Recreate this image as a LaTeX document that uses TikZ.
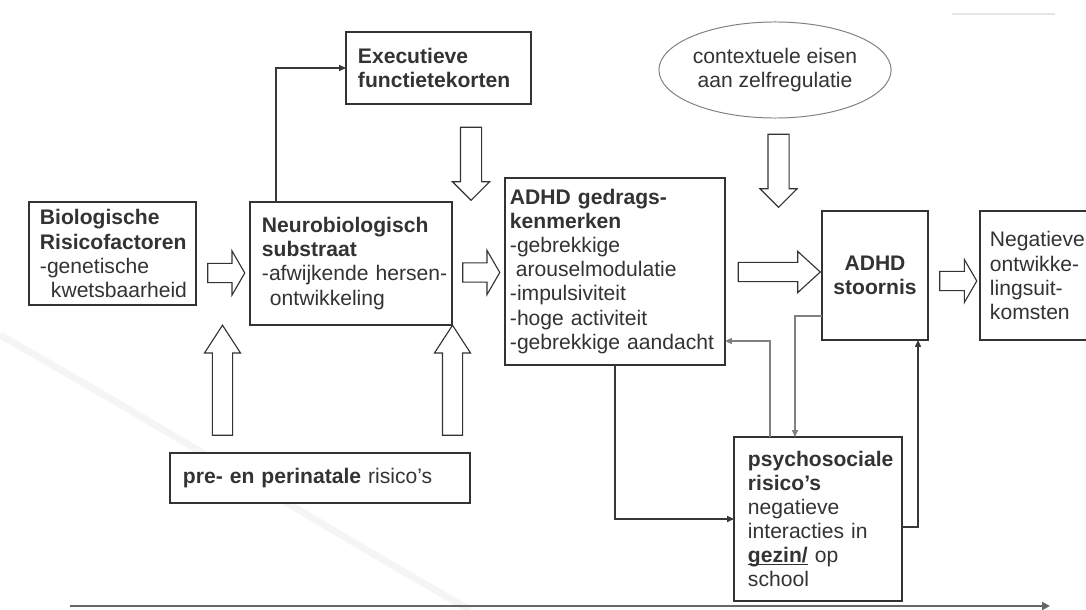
\documentclass[tikz,border=0pt]{standalone}
\usepackage{fontspec}
\setmainfont{Liberation Sans}
\usetikzlibrary{arrows.meta,calc,shapes.geometric,shapes.arrows}
\definecolor{FlowInk}{gray}{0.2}
\definecolor{FlowLink}{gray}{0.22}
\definecolor{FlowSoft}{gray}{0.5}
\definecolor{FlowTime}{gray}{0.4}
\definecolor{FlowFaint}{gray}{0.9}
\definecolor{FlowMist}{gray}{0.96}
\tikzset{
    flow/diagram/.style={
        x=0.025cm, y=-0.025cm,
        font=\fontsize{15}{17.1}\selectfont,
        text=FlowInk,
        every node/.style={inner sep=0pt, outer sep=0pt}
    },
    flow/box/.style={
        draw=FlowInk, line width=1pt, fill=white, align=left,
        execute at begin node={\hyphenpenalty=10000\exhyphenpenalty=10000}
    },
    flow/oval/.style={
        ellipse, draw=FlowSoft, line width=0.7pt, fill=white, align=center,
        minimum width=5.25cm, minimum height=2.4cm
    },
    flow/link/.style={
        draw=FlowLink, line width=0.8pt,
        -{Triangle[length=1.7mm, width=1.5mm]}
    },
    flow/softlink/.style={flow/link, draw=FlowSoft},
    flow/fat/.style={
        single arrow, draw=FlowInk, fill=white, line width=0.8pt,
        inner sep=0.225cm,
        minimum height=0.925cm, minimum width=1.075cm,
        single arrow head extend=0.3125cm, single arrow tip angle=120
    },
    flow/fatlong/.style={
        flow/fat, minimum height=2.05cm, minimum width=1cm,
        single arrow head extend=0.275cm, single arrow tip angle=85
    },
    flow/fatdown/.style={
        flow/fat, shape border rotate=270, inner sep=0.25cm,
        minimum height=1.825cm, minimum width=0.9cm,
        single arrow head extend=0.2cm, single arrow tip angle=90
    },
    flow/fatup/.style={
        flow/fat, shape border rotate=90, inner sep=0.2375cm,
        minimum height=2.75cm, minimum width=0.875cm,
        single arrow head extend=0.2cm, single arrow tip angle=66
    },
    flow/timeline/.style={
        draw=FlowTime, line width=1.6pt,
        -{Triangle[length=2mm, width=2mm]}
    },
    flow/faint/.style={draw=FlowFaint, line width=1pt},
    flow/swoosh/.style={draw=FlowMist, line width=5pt}
}
\begin{document}
\begin{tikzpicture}[flow/diagram]
    \useasboundingbox (0,0) rectangle (1086,610);
    \draw[flow/swoosh] (0,335) .. controls (150,420) and (330,530) .. (470,610);
    \node[flow/box, minimum width=4.175cm, minimum height=2.575cm,
        text width=3.625cm] (bio) at (112.5,253.5)
        {\textbf{Biologische}\\\textbf{Risicofactoren}\\-genetische\\\mbox{\hspace*{0.275cm}kwetsbaarheid}};
    \node[flow/box, minimum width=5.05cm, minimum height=3.075cm,
        text width=4.45cm] (neuro) at (351,263.5)
        {\textbf{Neurobiologisch}\\\textbf{substraat}\\\mbox{-afwijkende hersen-}\\\hspace*{0.2cm}ontwikkeling};
    \node[flow/box, minimum width=4.625cm, minimum height=1.8cm,
        text width=4.025cm] (exec) at (438.5,68)
        {\textbf{Executieve}\\\textbf{functietekorten}};
    \node[flow/box, minimum width=5.5cm, minimum height=4.675cm,
        text width=5.25cm] (gedrag) at (615,271.5)
        {\textbf{ADHD gedrags-}\\\textbf{kenmerken}\\-gebrekkige\\\hspace*{0.15cm}arouselmodulatie\\-impulsiviteit\\-hoge activiteit\\\mbox{-gebrekkige aandacht}};
    \node[flow/oval] (eisen) at (775,70) {contextuele eisen\\aan zelfregulatie};
    \node[flow/box, align=center, minimum width=2.65cm, minimum height=3.225cm]
        (stoornis) at (875,275.5) {\textbf{ADHD}\\\textbf{stoornis}};
    \node[flow/box, minimum width=3cm, minimum height=3.225cm,
        text width=2.5cm] (gevolg) at (1040,275.5)
        {Negatieve\\ontwikke-\\lingsuit-\\komsten};
    \node[flow/box, minimum width=4.2cm, minimum height=4.1cm,
        text width=3.5cm] (psych) at (818,519)
        {\textbf{psychosociale}\\\textbf{risico's}\\negatieve\\interacties in\\\underline{\smash{\textbf{gezin/}}} op\\school};
    \node[flow/box, minimum width=7.5cm, minimum height=1.25cm,
        text width=6.85cm] (pre) at (320,478)
        {\textbf{pre- en perinatale} risico's};
    \node[flow/fat] (pijl1) at (223.5,273) {};
    \node[flow/fat] (pijl2) at (478.5,272.5) {};
    \node[flow/fatlong] (pijl3) at (774,272) {};
    \node[flow/fat, minimum width=1.05cm, single arrow head extend=0.3cm]
        (pijl4) at (955.5,281) {};
    \node[flow/fatdown] (pijl5) at (471,158.5) {};
    \node[flow/fatdown] (pijl6) at (778.5,165.5) {};
    \node[flow/fatup] (pijl7) at (222.5,388) {};
    \node[flow/fatup] (pijl8) at (452.5,388) {};
    \draw[flow/link] ($(neuro.north west)+(26,0)$) |- (exec.west);
    \draw[flow/link] ($(gedrag.south west)+(110,0)$) |- (psych.west);
    \draw[flow/softlink] ($(psych.north west)+(36,0)$) |- ($(gedrag.south east)+(0,-24)$);
    \draw[flow/softlink] ($(stoornis.south west)+(0,-24)$) -| ($(psych.north west)+(61,0)$);
    \draw[flow/link] ($(psych.east)+(0,8)$) -| ($(stoornis.south east)+(-10,0)$);
    \coordinate (tijd0) at (70,606);
    \coordinate (tijd1) at (1050,606);
    \draw[flow/timeline] (tijd0) -- (tijd1);
    \coordinate (rand0) at (952,14);
    \coordinate (rand1) at (1055,14);
    \draw[flow/faint] (rand0) -- (rand1);
\end{tikzpicture}
\end{document}
